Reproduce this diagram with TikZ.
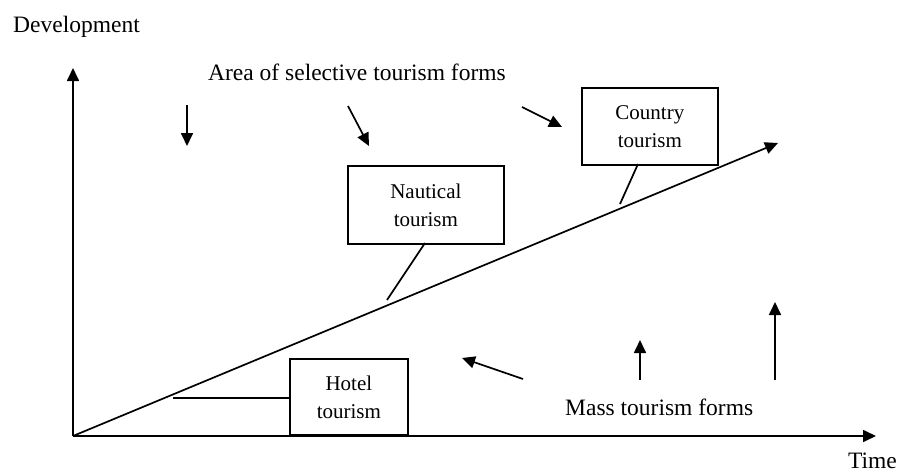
\documentclass[tikz,border=0pt]{standalone}
\usepackage{fontspec}
\setmainfont{Liberation Serif}
\usetikzlibrary{arrows.meta}
\begin{document}
\begin{tikzpicture}[x=1pt,y=-1pt,
  ln/.style={line width=1.7pt},
  arr/.style={ln,-{Triangle[length=13pt,width=12pt]}},
  box/.style={draw,line width=1.7pt,align=center,inner sep=0pt,font=\fontsize{21}{28}\selectfont},
  lbl/.style={font=\fontsize{23.5}{28}\selectfont,inner sep=0pt}]
\useasboundingbox (0,0) rectangle (898,472);
\coordinate (O) at (73,436);
\coordinate (Ytop) at (73,68);
\coordinate (Xend) at (876,436);
\coordinate (Dend) at (778,143);
\draw[arr] (O) -- (Ytop);
\draw[arr] (O) -- (Xend);
\draw[arr] (O) -- (Dend);
\node[lbl,anchor=base west] (dev) at (13,32) {Development};
\node[lbl,anchor=base east] (time) at (897,468) {Time};
\node[lbl,anchor=base west] (area) at (208,80) {Area of selective tourism forms};
\node[lbl,anchor=base west] (mass) at (565,415) {Mass tourism forms};
\node[box,minimum width=118pt,minimum height=76pt,anchor=south west] (hotel) at (289,436) {Hotel\\tourism};
\node[box,minimum width=156pt,minimum height=78pt,anchor=north west] (naut) at (347,165) {Nautical\\tourism};
\node[box,minimum width=136pt,minimum height=77pt,anchor=north west] (country) at (581,87) {Country\\tourism};
\coordinate (h1) at (173,398);
\coordinate (n1) at (387,300);
\coordinate (c1) at (620,204);
\draw[ln] (hotel.west |- h1) -- (h1);
\draw[ln] (425,243) -- (n1);
\draw[ln] (638,164) -- (c1);
\coordinate (a1s) at (187,105); \coordinate (a1e) at (187,146);
\coordinate (a2s) at (348,106); \coordinate (a2e) at (369,146);
\coordinate (a3s) at (522,107); \coordinate (a3e) at (562,127);
\coordinate (b1s) at (523,379); \coordinate (b1e) at (462,358);
\coordinate (b2s) at (640,380); \coordinate (b2e) at (640,340);
\coordinate (b3s) at (775,380); \coordinate (b3e) at (775,302);
\draw[arr] (a1s) -- (a1e);
\draw[arr] (a2s) -- (a2e);
\draw[arr] (a3s) -- (a3e);
\draw[arr] (b1s) -- (b1e);
\draw[arr] (b2s) -- (b2e);
\draw[arr] (b3s) -- (b3e);
\end{tikzpicture}
\end{document}
